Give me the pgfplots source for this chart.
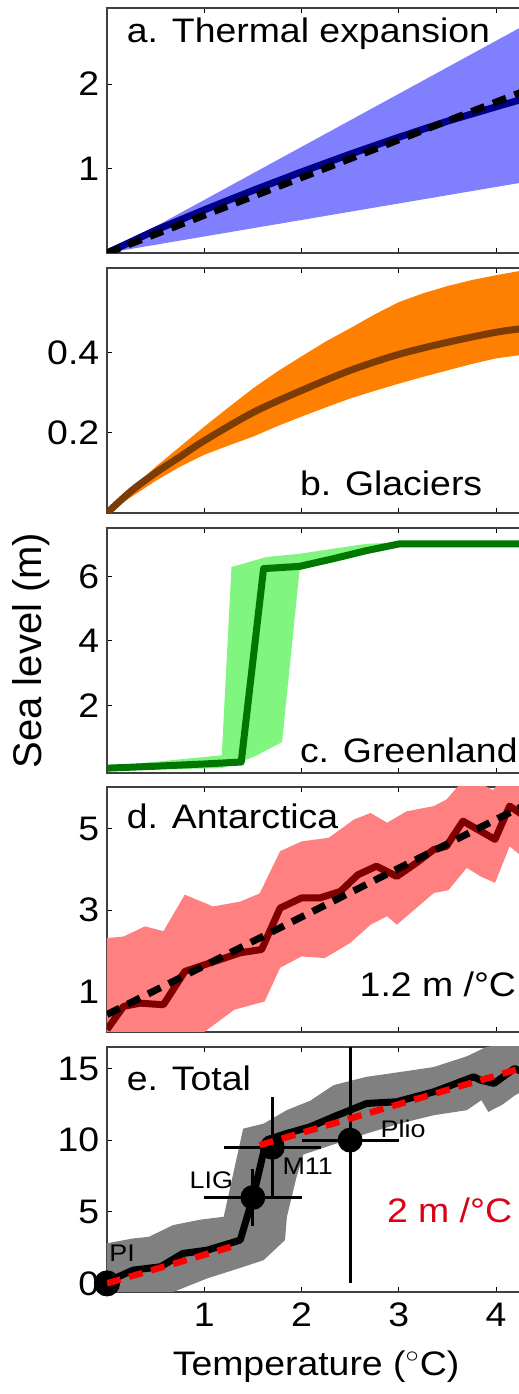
\documentclass[border=0pt]{standalone}
\usepackage{pgfplots}
\pgfplotsset{compat=1.18}
\usepackage{fontspec}
\setmainfont{Liberation Sans}
\definecolor{bandblue}{RGB}{128,128,255}
\definecolor{lineblue}{RGB}{0,0,140}
\definecolor{bandorange}{RGB}{255,128,0}
\definecolor{linebrown}{RGB}{125,60,5}
\definecolor{bandgreen}{RGB}{128,245,128}
\definecolor{linegreen}{RGB}{0,120,0}
\definecolor{bandpink}{RGB}{255,128,128}
\definecolor{linedred}{RGB}{128,0,0}
\definecolor{bandgray}{RGB}{128,128,128}
\definecolor{txtred}{RGB}{220,0,20}
\newcommand{\bigf}{\fontsize{17}{20}\selectfont}
\pgfplotsset{
  panel/.style={
    scale only axis, width=209.1pt, height=122.5pt,
    anchor=south west,
    xmin=0, xmax=4.3,
    xtick={1,2,3,4}, xticklabels={},
    tick align=inside, major tick length=2.5pt,
    tick style={black, line width=0.5pt},
    axis line style={black!75, line width=0.7pt},
    clip mode=individual,
    /pgf/number format/assume math mode=true,
    tick label style={font=\bigf, xscale=1.1},
  },
  solidl/.style={line width=3.5pt, line join=round},
  dashl/.style={line width=3.5pt, dash pattern=on 7pt off 4.5pt},
}
\begin{document}
\begin{tikzpicture}
\useasboundingbox (0,0) rectangle (259.5pt,697pt);
\clip (0,0) rectangle (259.5pt,697pt);
% ---------------- a
\begin{axis}[panel, at={(53.5pt,570.5pt)}, ymin=0, ymax=2.9, ytick={1,2}]
\addplot[fill=bandblue, draw=none] coordinates {(0,0) (4.3,2.70) (4.3,0.84)} -- cycle;
\addplot[solidl, lineblue] coordinates {(0,0) (0.5,0.27) (1,0.51) (1.5,0.74) (2,0.96) (2.5,1.17) (3,1.37) (3.5,1.56) (4,1.73) (4.3,1.83)};
\addplot[dashl, black] coordinates {(0,0) (4.3,1.92)};
\node[anchor=west, inner sep=0, font=\bigf, xscale=1.1] at (axis cs:0.2,2.6) {a. Thermal expansion};
\end{axis}
% ---------------- b
\begin{axis}[panel, at={(53.5pt,440.5pt)}, ymin=0, ymax=0.61, ytick={0.2,0.4}, yticklabels={0.2,0.4}]
\addplot[fill=bandorange, draw=none] coordinates {(0,0) (0.25,0.06) (0.5,0.115) (0.75,0.165) (1,0.215) (1.25,0.263) (1.5,0.31) (1.75,0.352) (2,0.39) (2.25,0.427) (2.5,0.46) (2.75,0.494) (3,0.525) (3.25,0.547) (3.5,0.565) (3.75,0.58) (4,0.592) (4.3,0.605)
 (4.3,0.395) (4,0.385) (3.75,0.371) (3.5,0.355) (3.25,0.339) (3,0.322) (2.75,0.304) (2.5,0.285) (2.25,0.263) (2,0.24) (1.75,0.216) (1.5,0.19) (1.25,0.168) (1,0.145) (0.75,0.115) (0.5,0.08) (0.25,0.04) (0,0)} -- cycle;
\addplot[solidl, linebrown, smooth] coordinates {(0,0) (0.25,0.055) (0.5,0.10) (0.75,0.14) (1,0.18) (1.5,0.25) (2,0.305) (2.5,0.355) (3,0.395) (3.5,0.425) (4,0.45) (4.3,0.46)};
\node[anchor=west, inner sep=0, font=\bigf, xscale=1.1] at (axis cs:1.98,0.074) {b. Glaciers};
\end{axis}
% ---------------- c
\begin{axis}[panel, at={(53.5pt,310.5pt)}, ymin=-0.1, ymax=7.5, ytick={2,4,6},
  ylabel={Sea level (m)},
  ylabel style={at={(rel axis cs:-0.182,0.5)}, anchor=center, font=\fontsize{20}{23}\selectfont}]
\addplot[fill=bandgreen, draw=none] coordinates {(0,0.1) (1.18,0.45) (1.28,6.29) (1.64,6.6) (1.98,6.7) (2.33,6.86) (2.67,7.01) (3.01,7.05) (4.3,7.05)
 (4.3,6.95) (3.01,6.95) (2.67,6.75) (2.33,6.5) (1.98,6.19) (1.80,0.86) (1.51,0.4) (1.18,0.05) (0,-0.02)} -- cycle;
\addplot[solidl, linegreen] coordinates {(0,0.05) (0.5,0.11) (1,0.18) (1.38,0.24) (1.61,6.24) (1.98,6.31) (2.33,6.55) (2.67,6.8) (3.01,7.01) (4.3,7.01)};
\node[anchor=west, inner sep=0, font=\bigf, xscale=1.1] at (axis cs:1.98,0.6) {c. Greenland};
\end{axis}
% ---------------- d
\begin{axis}[panel, at={(53.5pt,181pt)}, ymin=0, ymax=6.03, ytick={1,3,5}]
\addplot[fill=bandpink, draw=none] coordinates {(0,2.31) (0.17,2.35) (0.39,2.6) (0.58,2.48) (0.8,3.38) (1.09,3.09) (1.37,3.21) (1.57,3.41) (1.78,4.45) (2.0,4.69) (2.28,4.78) (2.54,5.23) (2.71,5.39) (2.88,5.15) (3.08,5.43) (3.36,5.56) (3.49,5.72) (3.7,6.3) (3.97,5.95) (4.1,6.4) (4.3,6.5)
 (4.3,4.3) (4.24,4.37) (4.14,4.57) (3.99,3.67) (3.84,3.83) (3.70,4.04) (3.51,3.49) (3.36,3.42) (3.18,3.05) (2.98,2.64) (2.88,2.85) (2.71,2.64) (2.50,2.19) (2.24,1.82) (2.0,1.86) (1.78,1.58) (1.62,0.75) (1.31,0.55) (1.0,0.0) (0,-1.2)} -- cycle;
\addplot[solidl, linedred] coordinates {(0,0.06) (0.17,0.63) (0.34,0.71) (0.58,0.67) (0.8,1.49) (1.06,1.70) (1.37,1.95) (1.59,2.03) (1.78,3.05) (2.0,3.30) (2.19,3.30) (2.40,3.46) (2.58,3.87) (2.77,4.08) (2.98,3.83) (3.18,4.16) (3.36,4.49) (3.49,4.57) (3.66,5.19) (3.99,4.74) (4.14,5.56) (4.3,5.3)};
\addplot[dashl, black] coordinates {(0,0.43) (4.3,5.59)};
\node[anchor=west, inner sep=0, font=\bigf, xscale=1.1] at (axis cs:0.2,5.31) {d. Antarctica};
\node[anchor=east, inner sep=0, font=\bigf, xscale=1.1] at (axis cs:4.21,1.17) {1.2 m /°C};
\end{axis}
% ---------------- e
\begin{axis}[panel, at={(53.5pt,51pt)}, ymin=-0.6, ymax=16.5, ytick={0,5,10,15},
  xticklabels={1,2,3,4}, xticklabel style={yshift=-2pt},
  xlabel={Temperature ($^{\circ}$C)},
  xlabel style={at={(rel axis cs:0.5,0)}, yshift=-37.3pt, anchor=center, font=\bigf, xscale=1.1}]
\addplot[fill=bandgray, draw=none] coordinates {(0,2.8) (0.27,3.14) (0.43,3.25) (0.68,4.07) (0.96,4.45) (1.2,4.65) (1.4,10.8) (1.61,11.15) (1.85,12.1) (2.09,12.75) (2.33,13.84) (2.67,14.42) (3.01,14.75) (3.36,15.1) (3.7,15.85) (3.9,16.5) (4.3,17)
 (4.3,13.5) (4.2,13.15) (4.06,12.45) (3.92,11.97) (3.85,12.79) (3.7,12.09) (3.36,11.74) (3.01,11.15) (2.67,10.46) (2.33,9.7) (2.02,9.0) (1.95,7.45) (1.85,4.65) (1.83,3.02) (1.61,1.62) (1.3,0.93) (1.03,0.35) (0.68,-0.6) (0,-2)} -- cycle;
\addplot[solidl, black] coordinates {(0,0.11) (0.27,0.93) (0.55,1.16) (0.78,2.09) (1.03,2.32) (1.37,3.02) (1.5,6.0) (1.64,10.0) (1.85,10.47) (2.09,10.93) (2.33,11.63) (2.67,12.56) (2.98,12.68) (3.36,13.37) (3.77,14.42) (3.84,14.19) (3.98,13.96) (4.19,15.0) (4.3,14.7)};
\addplot[only marks, mark=*, mark size=6pt, black,
  error bars/.cd, x dir=both, x explicit, y dir=both, y explicit, error mark=none,
  error bar style={line width=1.5pt}]
  coordinates {(1.5,6) +- (0.5,2) (1.7,9.5) +- (0.5,3.5) (2.5,10) += (0.5,6.5) -= (0.5,10)};
\addplot[only marks, mark=*, mark size=6.3pt, black] coordinates {(0,0)};
\addplot[dashl, red, line width=3.2pt] coordinates {(0,0) (1.34,2.68)};
\addplot[dashl, red, line width=3.2pt] coordinates {(1.57,9.65) (4.3,15.1)};
\node[anchor=west, inner sep=0, font=\bigf, xscale=1.1] at (axis cs:0.2,14.3) {e. Total};
\node[anchor=west, inner sep=0, font=\fontsize{12}{14}\selectfont, xscale=1.12] at (axis cs:0.02,2.1) {PI};
\node[anchor=east, inner sep=0, font=\fontsize{12}{14}\selectfont, xscale=1.12] at (axis cs:1.3,7.2) {LIG};
\node[anchor=west, inner sep=0, font=\fontsize{12}{14}\selectfont, xscale=1.12] at (axis cs:1.8,8.15) {M11};
\node[anchor=west, inner sep=0, font=\fontsize{12}{14}\selectfont, xscale=1.12] at (axis cs:2.81,10.8) {Plio};
\node[anchor=east, inner sep=0, font=\bigf, xscale=1.1, text=txtred] at (axis cs:4.17,5.1) {2 m /°C};
\end{axis}
\end{tikzpicture}
\end{document}
